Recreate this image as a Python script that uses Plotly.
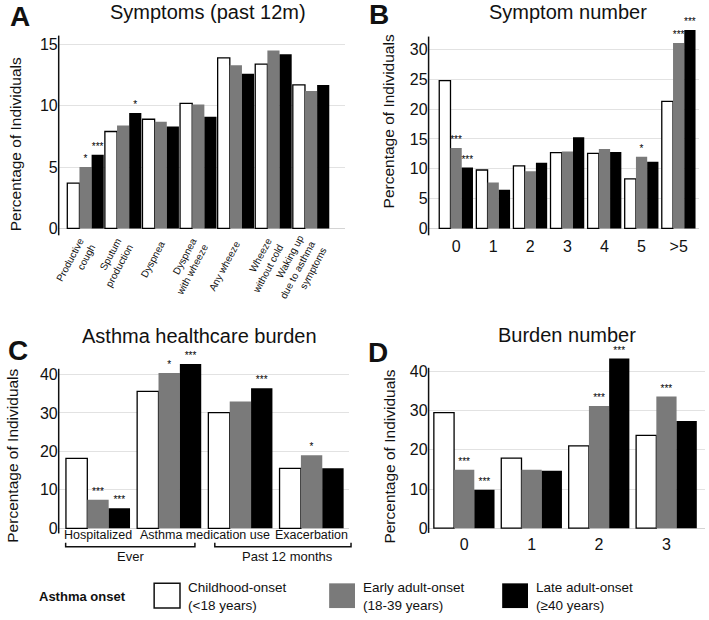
import plotly.graph_objects as go

W, H = 709, 620
FONT = "Liberation Sans, Arial, sans-serif"

series_names = ["Childhood-onset<br>(<18 years)", "Early adult-onset<br>(18-39 years)", "Late adult-onset<br>(≥40 years)"]
series_colors = ["#ffffff", "#7a7a7a", "#000000"]

# Panel A
symptom_labels = ["Productive<br>cough", "Sputum<br>production", "Dyspnea", "Dyspnea<br>with wheeze",
                  "Any wheeze", "Wheeze<br>without cold", "Waking up<br>due to asthma<br>symptoms"]
a_child = [3.7, 7.9, 8.9, 10.2, 13.9, 13.4, 11.7]
a_early = [5.0, 8.4, 8.7, 10.1, 13.3, 14.5, 11.2]
a_late = [6.0, 9.4, 8.3, 9.1, 12.6, 14.2, 11.7]
a_sig_child = ["", "", "", "", "", "", ""]
a_sig_early = ["*", "", "", "", "", "", ""]
a_sig_late = ["***", "*", "", "", "", "", ""]

# Panel B
number_labels = ["0", "1", "2", "3", "4", "5", ">5"]
b_child = [24.8, 9.8, 10.5, 12.7, 12.6, 8.3, 21.3]
b_early = [13.5, 7.7, 9.6, 12.9, 13.3, 12.0, 31.1]
b_late = [10.2, 6.5, 11.0, 15.3, 12.8, 11.2, 33.3]
b_sig_child = ["", "", "", "", "", "", ""]
b_sig_early = ["***", "", "", "", "", "*", "***"]
b_sig_late = ["***", "", "", "", "", "", "***"]

# Panel C
burden_labels = ["Hospitalized", "Asthma medication use", "Asthma medication use", "Exacerbation"]
burden_tick_text = ["Hospitalized", "Asthma medication use", "Exacerbation"]
burden_tick_pos = [0, 1.5, 3]
burden_groups = ["Ever", "Past 12 months"]
c_child = [18.2, 35.6, 30.1, 15.6]
c_early = [7.4, 40.4, 33.0, 19.0]
c_late = [5.2, 42.7, 36.4, 15.6]
c_sig_child = ["", "", "", ""]
c_sig_early = ["***", "*", "", "*"]
c_sig_late = ["***", "***", "***", ""]

# Panel D
burden_num_labels = ["0", "1", "2", "3"]
d_child = [29.5, 17.9, 21.0, 23.7]
d_early = [14.9, 14.9, 31.2, 33.6]
d_late = [9.8, 14.7, 43.3, 27.4]
d_sig_child = ["", "", "", ""]
d_sig_early = ["***", "", "***", "***"]
d_sig_late = ["***", "", "***", ""]

def X(px):
    return px / W

def Y(py):
    return 1 - py / H

fig = go.Figure()

def add_panel(idx, values, sigs, gap):
    n = len(values[0])
    xs = list(range(n))
    w = (1 - gap) / 3
    for k in range(3):
        fig.add_trace(go.Bar(
            x=xs, y=values[k], name=series_names[k].replace("<br>", " "),
            width=w, offset=-1.5 * w + k * w,
            marker=dict(color=series_colors[k],
                        line=dict(color="#000000" if k == 0 else series_colors[k], width=1.3 if k == 0 else 0)),
            text=sigs[k], textposition="outside", textfont=dict(size=10, color="#000", family=FONT),
            constraintext="none", cliponaxis=False,
            xaxis="x" if idx == 1 else f"x{idx}", yaxis="y" if idx == 1 else f"y{idx}",
            showlegend=False,
        ))

add_panel(1, [a_child, a_early, a_late], [a_sig_child, a_sig_early, a_sig_late], 0.03)
add_panel(2, [b_child, b_early, b_late], [b_sig_child, b_sig_early, b_sig_late], 0.09)
add_panel(3, [c_child, c_early, c_late], [c_sig_child, c_sig_early, c_sig_late], 0.10)
add_panel(4, [d_child, d_early, d_late], [d_sig_child, d_sig_early, d_sig_late], 0.10)

grid = "#e2e2e2"

def yax(domain, rng, tickvals, anchor):
    return dict(domain=domain, range=rng, tickmode="array", tickvals=tickvals, showgrid=True, gridcolor=grid,
                zeroline=True, zerolinecolor="#d4d4d4", zerolinewidth=1, showline=False, ticks="",
                tickfont=dict(size=16, family=FONT, color="#111"), anchor=anchor, fixedrange=True)

def xax(domain, rng, anchor, tickvals, ticktext, size, angle=0, show=True):
    return dict(domain=domain, range=rng, anchor=anchor, tickmode="array", tickvals=tickvals,
                ticktext=ticktext, tickangle=angle, showgrid=False, zeroline=False, showline=False,
                showticklabels=show,
                ticks="", tickfont=dict(size=size, family=FONT, color="#111"), fixedrange=True)

fig.update_layout(
    width=W, height=H, margin=dict(l=0, r=0, t=0, b=0),
    paper_bgcolor="white", plot_bgcolor="white", barmode="group",
    font=dict(family=FONT, color="#111"),
    xaxis=xax([X(55), X(343)], [-0.714, 6.905], "y", list(range(len(symptom_labels))), symptom_labels, 10, -62),
    yaxis=yax([Y(238), Y(35)], [-0.56, 15.8], [0, 5, 10, 15], "x"),
    xaxis2=xax([X(427), X(699)], [-0.742, 6.55], "y2", list(range(len(number_labels))), number_labels, 16),
    yaxis2=yax([Y(238), Y(20)], [-1.16, 35], [0, 5, 10, 15, 20, 25, 30], "x2"),
    xaxis3=xax([X(55), X(347)], [-0.552, 3.526], "y3", burden_tick_pos, burden_tick_text, 12.5, show=False),
    yaxis3=yax([Y(535.5), Y(355.4)], [-0.3, 46], [0, 10, 20, 30, 40], "x3"),
    xaxis4=xax([X(427), X(705)], [-0.528, 3.572], "y4", list(range(len(burden_num_labels))), burden_num_labels, 16),
    yaxis4=yax([Y(539), Y(352)], [-1.2, 46], [0, 10, 20, 30, 40], "x4"),
)

shapes = []
# axis lines
for (x, y0, y1) in [(55, 238, 36), (427, 238, 37), (55, 539.5, 373), (427, 539, 372)]:
    shapes.append(dict(type="line", xref="paper", yref="paper", x0=X(x), x1=X(x), y0=Y(y0), y1=Y(y1),
                       line=dict(color="#111", width=1.5)))
# brackets in panel C
for (x0, x1) in [(62, 192), (212, 349)]:
    shapes.append(dict(type="path", xref="paper", yref="paper",
                       path=f"M {X(x0)} {Y(549)} L {X(x0)} {Y(553)} L {X(x1)} {Y(553)} L {X(x1)} {Y(549)}",
                       line=dict(color="#111", width=1.5)))
# legend boxes
for k, bx in enumerate([151, 327, 501]):
    shapes.append(dict(type="rect", xref="paper", yref="paper", x0=X(bx), x1=X(bx + 26), y0=Y(615), y1=Y(590),
                       fillcolor=series_colors[k],
                       line=dict(color="#111" if k == 0 else series_colors[k], width=1.5 if k == 0 else 0)))

annotations = []
def ann(text, x, y, size, bold=False, xanchor="center", textangle=0, yanchor="middle", align="center"):
    annotations.append(dict(text=f"<b>{text}</b>" if bold else text, x=X(x), y=Y(y), xref="paper", yref="paper",
                            showarrow=False, xanchor=xanchor, yanchor=yanchor, textangle=textangle, align=align,
                            font=dict(size=size, family=FONT, color="#111")))

# panel C category labels (positioned in data x coordinates)
for pos, txt in zip(burden_tick_pos, burden_tick_text):
    annotations.append(dict(text=txt, x=pos, xref="x3", y=Y(541.5), yref="paper", showarrow=False,
                            xanchor="center", yanchor="middle",
                            font=dict(size=12.5, family=FONT, color="#111")))

ann("Symptoms (past 12m)", 205, 12, 20)
ann("Symptom number", 567, 12, 20)
ann("Asthma healthcare burden", 197, 340, 20)
ann("Burden number", 566, 339, 20)
ann("A", 16, 17, 28, bold=True)
ann("B", 377, 15, 28, bold=True)
ann("C", 14, 355, 28, bold=True)
ann("D", 376, 357, 28, bold=True)
for (x, y) in [(11, 146), (387, 123), (9, 461), (388, 462)]:
    ann("Percentage of Individuals", x, y, 15.5, textangle=-90)
ann(burden_groups[0], 127, 562.5, 13)
ann(burden_groups[1], 285, 562.5, 13)
ann("Asthma onset", 33, 603, 13, bold=True, xanchor="left")
for k, tx in enumerate([183, 359, 533]):
    ann(series_names[k], tx, 603, 13.5, xanchor="left", align="left")

fig.update_layout(shapes=shapes, annotations=annotations)
fig.write_html("out.html")
